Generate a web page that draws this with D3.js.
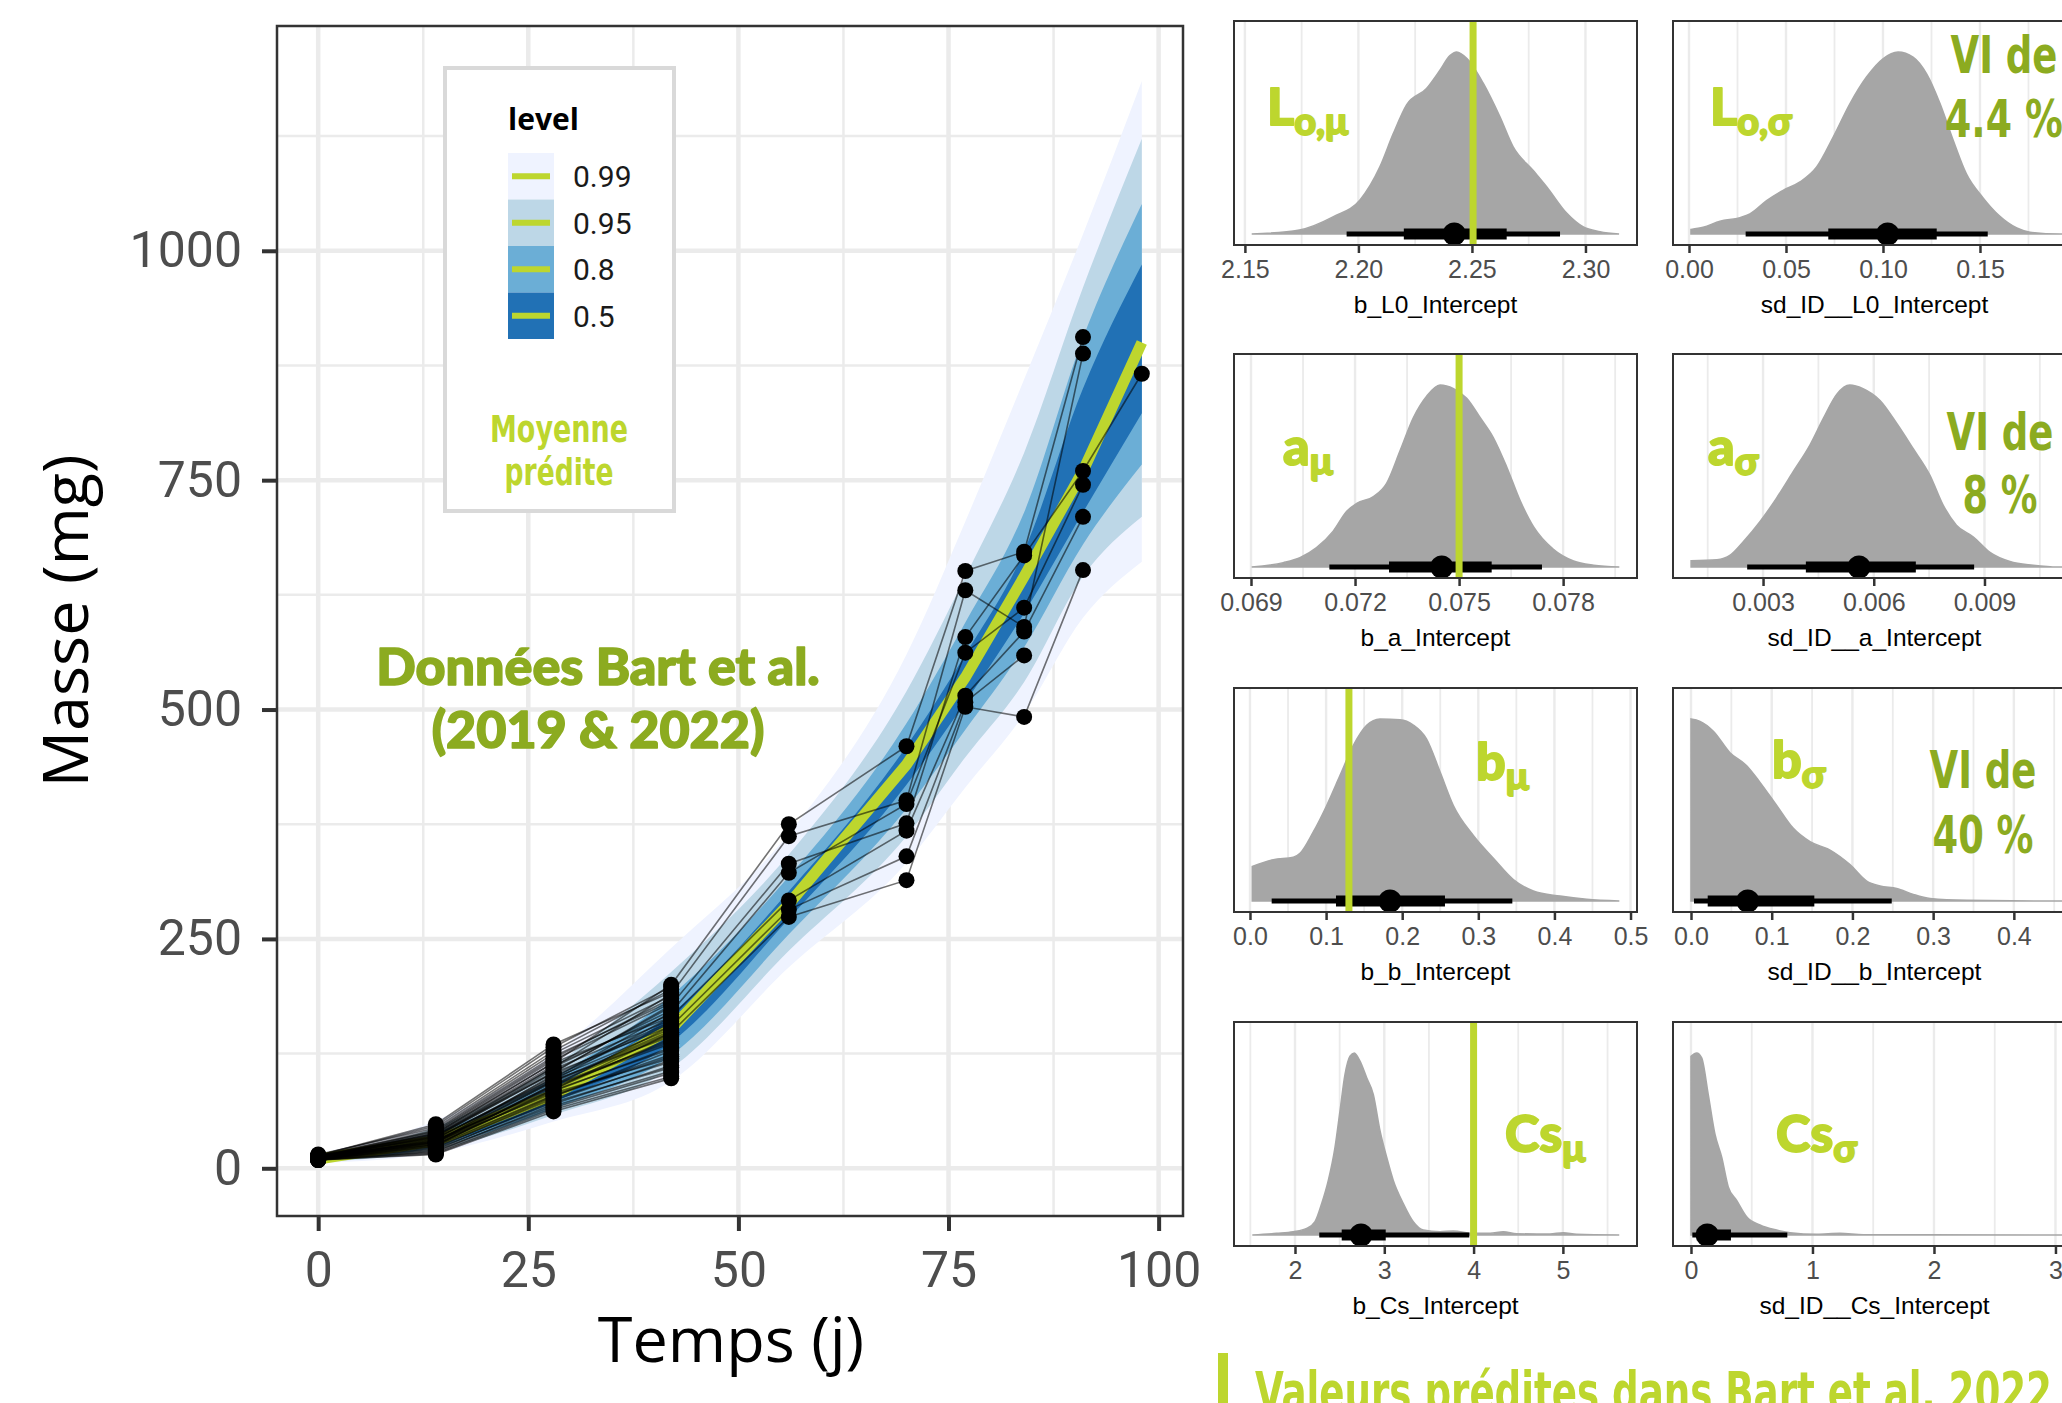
<!DOCTYPE html>
<html>
<head>
<meta charset="utf-8">
<script src="https://cdn.jsdelivr.net/npm/d3@7"></script>
<style>
  body { margin: 0; background: #fff; }
  svg { display: block; }
</style>
</head>
<body>
<svg id="chart" width="2062" height="1403"></svg>
<script>
// ---------- data: growth curves ----------
const times = [0, 14, 28, 42, 56, 70, 77, 84, 91, 98];
const predMean = [10, 30, 80, 152, 288, 440, 535, 645, 760, 900];
const hi99 = [16, 52, 125, 240, 365, 560, 705, 860, 1018, 1185];
const hi95 = [14.5, 45, 112, 214, 342, 520, 645, 780, 960, 1122];
const hi80 = [13, 39, 99, 188, 318, 485, 595, 715, 905, 1051];
const hi50 = [11.5, 34, 89, 168, 302, 460, 560, 673, 850, 985];
const lo50 = [9, 26, 72, 137, 272, 418, 508, 605, 715, 823];
const lo80 = [8, 23, 65, 123, 255, 392, 478, 568, 680, 767];
const lo95 = [7, 20, 58, 109, 237, 362, 448, 530, 645, 710];
const lo99 = [5.5, 17, 51, 95, 219, 333, 415, 495, 600, 661];
const levels = ["0.99", "0.95", "0.8", "0.5"];

// individuals measured until day 42 (mass at 0, 14, 28, 42)
const shortIndiv = [
  [12, 28, 95, 150], [10, 22, 78, 128], [14, 40, 120, 185], [11, 30, 88, 140],
  [9, 18, 70, 112], [13, 35, 110, 172], [12, 26, 84, 132], [10, 24, 92, 146],
  [15, 44, 128, 195], [11, 32, 100, 158], [9, 16, 64, 100], [12, 38, 115, 165],
  [13, 29, 82, 120], [10, 20, 74, 118], [14, 36, 105, 176], [11, 27, 90, 136],
  [12, 33, 98, 152], [10, 25, 80, 124], [13, 42, 125, 188], [11, 31, 86, 142],
  [9, 19, 68, 106], [12, 34, 108, 162], [14, 46, 132, 198], [10, 23, 76, 116],
  [12, 30, 94, 148], [11, 28, 102, 160], [13, 37, 112, 168], [10, 21, 72, 110],
  [12, 39, 118, 180], [11, 26, 85, 130], [9, 15, 62, 98], [13, 33, 96, 144],
  [12, 41, 122, 182], [10, 29, 91, 138], [14, 48, 135, 192], [11, 24, 79, 122],
  [12, 35, 104, 155], [10, 17, 66, 104]
];
// individuals followed longer (mass at the times above)
const longIndiv = [
  [13, 38, 115, 200, 375, 460, 651, 672, 906],
  [12, 36, 110, 190, 362, 401, 630, 590, 888],
  [12, 34, 104, 178, 332, 376, 579, 668, 760, 866],
  [11, 32, 98, 170, 322, 397, 562, 611, 745],
  [12, 30, 96, 165, 292, 368, 515, 585, 710],
  [11, 28, 90, 155, 282, 340, 508, 559],
  [10, 26, 86, 148, 274, 314, 503, 492, 652]
];

// ---------- data: posterior densities [value, relative density] ----------
const densL0mu = [[2.153,0],[2.174,0.022],[2.189,0.095],[2.2007,0.187],[2.2095,0.37],[2.2153,0.55],[2.2212,0.71],[2.230,0.80],[2.2359,0.90],[2.2403,0.98],[2.2433,1.0],[2.2477,0.965],[2.2549,0.83],[2.2623,0.645],[2.2681,0.48],[2.2769,0.35],[2.2829,0.26],[2.2917,0.115],[2.2989,0.04],[2.3064,0.013],[2.3148,0]];
const densL0sd = [[0.001,0.025],[0.0073,0.037],[0.016,0.07],[0.0263,0.09],[0.0314,0.11],[0.040,0.183],[0.0485,0.24],[0.0572,0.286],[0.0658,0.368],[0.0744,0.534],[0.083,0.717],[0.0916,0.864],[0.100,0.963],[0.1078,1.0],[0.1155,0.972],[0.1225,0.88],[0.1294,0.717],[0.1362,0.515],[0.143,0.33],[0.1515,0.20],[0.160,0.10],[0.169,0.033],[0.1758,0.01],[0.1912,0],[0.21,0]];
const densAmu = [[0.06902,0],[0.06993,0.024],[0.07041,0.051],[0.07089,0.106],[0.07137,0.197],[0.07176,0.306],[0.07205,0.35],[0.07253,0.387],[0.07291,0.46],[0.0733,0.64],[0.07368,0.82],[0.07407,0.94],[0.07445,1.0],[0.07484,0.98],[0.07522,0.927],[0.07561,0.82],[0.07599,0.71],[0.07638,0.547],[0.07676,0.365],[0.07715,0.22],[0.07772,0.097],[0.0783,0.033],[0.07888,0.01],[0.07962,0]];
const densAsd = [[0.00105,0.035],[0.00175,0.04],[0.00211,0.065],[0.00247,0.14],[0.00292,0.25],[0.00337,0.38],[0.00382,0.525],[0.00427,0.67],[0.00463,0.815],[0.005,0.95],[0.00535,1.0],[0.00571,0.98],[0.00617,0.915],[0.00662,0.79],[0.00707,0.65],[0.00752,0.505],[0.00788,0.34],[0.00824,0.23],[0.0087,0.165],[0.00915,0.08],[0.00969,0.03],[0.01032,0.01],[0.01099,0],[0.0116,0]];
const densBmu = [[0.003,0.19],[0.0306,0.227],[0.0569,0.24],[0.0657,0.262],[0.0832,0.38],[0.1008,0.525],[0.1183,0.69],[0.1358,0.855],[0.1533,0.965],[0.1708,1.0],[0.1971,0.996],[0.2146,0.967],[0.2321,0.89],[0.2497,0.71],[0.2672,0.525],[0.2935,0.36],[0.3198,0.235],[0.346,0.118],[0.3723,0.055],[0.4074,0.027],[0.4424,0.009],[0.4853,0]];
const densBsd = [[0.0,1.0],[0.0112,0.987],[0.0277,0.933],[0.0483,0.815],[0.069,0.743],[0.0855,0.652],[0.1062,0.525],[0.1268,0.399],[0.1475,0.326],[0.1723,0.28],[0.197,0.2],[0.2177,0.109],[0.2342,0.082],[0.2549,0.069],[0.2755,0.036],[0.2962,0.014],[0.3416,0.004],[0.4572,0],[0.49,0]];
const densCsmu = [[1.522,0],[1.795,0.009],[1.981,0.018],[2.131,0.036],[2.224,0.073],[2.299,0.173],[2.373,0.3],[2.448,0.482],[2.504,0.682],[2.56,0.882],[2.616,0.982],[2.664,1.0],[2.728,0.955],[2.803,0.864],[2.877,0.773],[2.952,0.573],[3.027,0.427],[3.101,0.3],[3.213,0.173],[3.325,0.073],[3.437,0.027],[3.624,0.018],[3.773,0.022],[3.997,0.009],[4.184,0.009],[4.333,0.018],[4.482,0.007],[4.855,0.005],[5.004,0.013],[5.154,0.004],[5.631,0]];
const densCssd = [[0,0.982],[0.047,1.0],[0.088,0.973],[0.142,0.773],[0.197,0.555],[0.253,0.427],[0.307,0.264],[0.376,0.19],[0.458,0.1],[0.568,0.055],[0.705,0.027],[0.815,0.013],[1.035,0.004],[1.226,0.009],[1.418,0.002],[3.01,0],[3.2,0]];

// intervals: [95% low, 66% low, median, 66% high, 95% high]
const ivL0mu = [2.1948, 2.220, 2.2422, 2.2653, 2.2888];
const ivL0sd = [0.0292, 0.0718, 0.1024, 0.1277, 0.154];
const ivAmu = [0.07126, 0.07298, 0.0745, 0.07594, 0.07739];
const ivAsd = [0.00257, 0.00416, 0.0056, 0.00714, 0.00872];
const ivBmu = [0.0285, 0.113, 0.184, 0.2562, 0.3447];
const ivBsd = [0.0037, 0.0207, 0.0703, 0.1528, 0.2487];
const ivCsmu = [2.272, 2.523, 2.739, 3.016, 3.952];
const ivCssd = [0.011, 0.047, 0.134, 0.329, 0.793];

// values predicted in Bart et al. 2022
const predictedL0 = 2.2505, predictedA = 0.075, predictedB = 0.13, predictedCs = 4.0;

// ---------- colours ----------
const lime = "#bdd62e";
const olive = "#8cab20";
const blues = ["#eff3ff", "#bdd7e7", "#6baed6", "#2171b5"];
const gridCol = "#ebebeb";
const condensed = "'Liberation Sans Narrow','Arial Narrow','DejaVu Sans Condensed',sans-serif";

const svg = d3.select("#chart");
svg.append("rect").attr("width", 2062).attr("height", 1403).attr("fill", "#fff");

// ================= main growth panel =================
const mp = { left: 277, right: 1183, top: 26, bottom: 1216 };
const x = d3.scaleLinear().domain([-4.9, 102.9]).range([mp.left, mp.right]);
const y = d3.scaleLinear().domain([-52, 1245]).range([mp.bottom, mp.top]);

const main = svg.append("g");

// grid
const xMinor = [12.5, 37.5, 62.5, 87.5], yMinor = [125, 375, 625, 875, 1125];
const xMajor = [0, 25, 50, 75, 100], yMajor = [0, 250, 500, 750, 1000];
main.selectAll(".gxm").data(xMinor).join("line")
  .attr("x1", d => x(d)).attr("x2", d => x(d)).attr("y1", mp.top).attr("y2", mp.bottom)
  .attr("stroke", gridCol).attr("stroke-width", 2.5);
main.selectAll(".gym").data(yMinor).join("line")
  .attr("y1", d => y(d)).attr("y2", d => y(d)).attr("x1", mp.left).attr("x2", mp.right)
  .attr("stroke", gridCol).attr("stroke-width", 2.5);
main.selectAll(".gxM").data(xMajor).join("line")
  .attr("x1", d => x(d)).attr("x2", d => x(d)).attr("y1", mp.top).attr("y2", mp.bottom)
  .attr("stroke", gridCol).attr("stroke-width", 4.5);
main.selectAll(".gyM").data(yMajor).join("line")
  .attr("y1", d => y(d)).attr("y2", d => y(d)).attr("x1", mp.left).attr("x2", mp.right)
  .attr("stroke", gridCol).attr("stroke-width", 4.5);

// prediction ribbons
const bands = [[lo99, hi99], [lo95, hi95], [lo80, hi80], [lo50, hi50]];
const ribbon = d3.area().curve(d3.curveMonotoneX)
  .x((d, i) => x(times[i]))
  .y0(d => y(d[0]))
  .y1(d => y(d[1]));
bands.forEach((b, k) => {
  const rows = times.map((t, i) => [b[0][i], b[1][i]]);
  main.append("path").datum(rows).attr("d", ribbon).attr("fill", blues[k]);
});

// predicted mean
const meanLine = d3.line().x((d, i) => x(times[i])).y(d => y(d));
main.append("path").datum(predMean).attr("d", meanLine)
  .attr("fill", "none").attr("stroke", lime).attr("stroke-width", 11);

// individual trajectories
const allIndiv = shortIndiv.concat(longIndiv);
const indivLine = d3.line().x((d, i) => x(times[i])).y(d => y(d));
main.selectAll(".ind").data(allIndiv).join("path")
  .attr("d", indivLine).attr("fill", "none")
  .attr("stroke", "#000").attr("stroke-opacity", 0.55).attr("stroke-width", 1.6);
const pts = [];
allIndiv.forEach(ind => ind.forEach((v, i) => pts.push([times[i], v])));
main.selectAll(".pt").data(pts).join("circle")
  .attr("cx", d => x(d[0])).attr("cy", d => y(d[1])).attr("r", 8).attr("fill", "#000");

// border
main.append("rect").attr("x", mp.left).attr("y", mp.top)
  .attr("width", mp.right - mp.left).attr("height", mp.bottom - mp.top)
  .attr("fill", "none").attr("stroke", "#333").attr("stroke-width", 2.5);

// axes
const yAxis = main.append("g").attr("transform", `translate(${mp.left},0)`)
  .call(d3.axisLeft(y).tickValues(yMajor).tickFormat(d3.format("d")).tickSize(15).tickPadding(20));
const xAxis = main.append("g").attr("transform", `translate(0,${mp.bottom})`)
  .call(d3.axisBottom(x).tickValues(xMajor).tickFormat(d3.format("d")).tickSize(15).tickPadding(20));
[yAxis, xAxis].forEach(a => {
  a.select(".domain").remove();
  a.selectAll(".tick line").attr("stroke", "#333").attr("stroke-width", 4);
  a.selectAll(".tick text").attr("font-family", "Roboto, sans-serif")
    .attr("font-size", 50).attr("fill", "#4d4d4d");
});

main.append("text").attr("x", 731).attr("y", 1362).attr("text-anchor", "middle")
  .attr("font-family", "'Open Sans', sans-serif").attr("font-size", 63).attr("fill", "#000")
  .text("Temps (j)");
main.append("text").attr("transform", `translate(88,${(mp.top + mp.bottom) / 2}) rotate(-90)`)
  .attr("text-anchor", "middle")
  .attr("font-family", "'Open Sans', sans-serif").attr("font-size", 63).attr("fill", "#000")
  .text("Masse (mg)");

// data annotation (stroke thickens the bold face)
["Données Bart et al.", "(2019 & 2022)"].forEach((t, i) => {
  main.append("text").attr("x", 598).attr("y", 685 + i * 63).attr("text-anchor", "middle")
    .attr("font-family", "Lato, sans-serif").attr("font-weight", 900).attr("font-size", 52)
    .attr("fill", olive).attr("stroke", olive).attr("stroke-width", 1.6)
    .attr("stroke-linejoin", "round").text(t);
});

// legend
const lg = main.append("g");
lg.append("rect").attr("x", 445).attr("y", 68).attr("width", 229).attr("height", 443)
  .attr("fill", "#fff").attr("stroke", "#d9d9d9").attr("stroke-width", 4);
lg.append("text").attr("x", 508).attr("y", 130)
  .attr("font-family", "'Open Sans', sans-serif").attr("font-weight", 700).attr("font-size", 30)
  .attr("fill", "#000").text("level");
const keyY = d3.scaleBand().domain(levels).range([153, 339]);
lg.selectAll(".key").data(levels).join("rect")
  .attr("x", 508).attr("y", d => keyY(d)).attr("width", 46).attr("height", keyY.bandwidth())
  .attr("fill", (d, i) => blues[i]);
lg.selectAll(".keyline").data(levels).join("line")
  .attr("x1", 512).attr("x2", 550)
  .attr("y1", d => keyY(d) + keyY.bandwidth() / 2).attr("y2", d => keyY(d) + keyY.bandwidth() / 2)
  .attr("stroke", lime).attr("stroke-width", 6);
lg.selectAll(".keylab").data(levels).join("text")
  .attr("x", 573).attr("y", d => keyY(d) + keyY.bandwidth() / 2).attr("dy", "0.36em")
  .attr("font-family", "Roboto, sans-serif").attr("font-size", 30).attr("fill", "#1a1a1a")
  .text(d => d);
lg.append("text").attr("x", 559).attr("y", 442).attr("text-anchor", "middle")
  .attr("font-family", condensed).attr("font-weight", 700).attr("font-size", 38)
  .attr("textLength", 138).attr("lengthAdjust", "spacingAndGlyphs")
  .attr("fill", lime).text("Moyenne");
lg.append("text").attr("x", 559).attr("y", 485).attr("text-anchor", "middle")
  .attr("font-family", condensed).attr("font-weight", 700).attr("font-size", 38)
  .attr("textLength", 109).attr("lengthAdjust", "spacingAndGlyphs")
  .attr("fill", lime).text("prédite");

// ================= posterior panels =================
const colX = [1234, 1673], rowY = [21, 354, 688, 1022];
const pw = 403, ph = 224;

const panels = [
  { title: "b_L0_Intercept", row: 0, col: 0, domain: [2.1452, 2.3227], major: [2.15, 2.20, 2.25, 2.30], minor: [2.175, 2.225, 2.275], fmt: ".2f", dens: densL0mu, iv: ivL0mu, vline: predictedL0, sym: "L", sub: "o,μ" },
  { title: "sd_ID__L0_Intercept", row: 0, col: 1, domain: [-0.00825, 0.1995], major: [0, 0.05, 0.10, 0.15], minor: [0.025, 0.075, 0.125, 0.175], fmt: ".2f", dens: densL0sd, iv: ivL0sd, vline: null, sym: "L", sub: "o,σ", vi: ["VI de", "4.4 %"] },
  { title: "b_a_Intercept", row: 1, col: 0, domain: [0.06851, 0.08013], major: [0.069, 0.072, 0.075, 0.078], minor: [0.0705, 0.0735, 0.0765, 0.0795], fmt: ".3f", dens: densAmu, iv: ivAmu, vline: predictedA, sym: "a", sub: "μ" },
  { title: "sd_ID__a_Intercept", row: 1, col: 1, domain: [0.00056, 0.01148], major: [0.003, 0.006, 0.009], minor: [0.0015, 0.0045, 0.0075, 0.0105], fmt: ".3f", dens: densAsd, iv: ivAsd, vline: null, sym: "a", sub: "σ", vi: ["VI de", "8 %"] },
  { title: "b_b_Intercept", row: 2, col: 0, domain: [-0.021, 0.5085], major: [0, 0.1, 0.2, 0.3, 0.4, 0.5], minor: [0.05, 0.15, 0.25, 0.35, 0.45], fmt: ".1f", dens: densBmu, iv: ivBmu, vline: predictedB, sym: "b", sub: "μ" },
  { title: "sd_ID__b_Intercept", row: 2, col: 1, domain: [-0.0223, 0.477], major: [0, 0.1, 0.2, 0.3, 0.4], minor: [0.05, 0.15, 0.25, 0.35, 0.45], fmt: ".1f", dens: densBsd, iv: ivBsd, vline: null, sym: "b", sub: "σ", vi: ["VI de", "40 %"] },
  { title: "b_Cs_Intercept", row: 3, col: 0, domain: [1.317, 5.83], major: [2, 3, 4, 5], minor: [1.5, 2.5, 3.5, 4.5, 5.5], fmt: "d", dens: densCsmu, iv: ivCsmu, vline: predictedCs, sym: "Cs", sub: "μ" },
  { title: "sd_ID__Cs_Intercept", row: 3, col: 1, domain: [-0.148, 3.169], major: [0, 1, 2, 3], minor: [0.5, 1.5, 2.5], fmt: "d", dens: densCssd, iv: ivCssd, vline: null, sym: "Cs", sub: "σ" }
];

// where the parameter names and the VI notes sit
const symPos = [[1267, 125], [1710, 125], [1283, 465], [1708, 465], [1476, 780], [1772, 778], [1505, 1152], [1776, 1152]];
const viPos = { 1: [2004, 73, 137, 107, 118], 3: [2000, 450, 513, 107, 75], 5: [1983, 788, 853, 107, 101] };

panels.forEach((p, k) => {
  const x0 = colX[p.col], y0 = rowY[p.row];
  const g = svg.append("g");
  const clipId = "clip" + k;
  g.append("clipPath").attr("id", clipId).append("rect")
    .attr("x", x0).attr("y", y0).attr("width", pw).attr("height", ph);

  const px = d3.scaleLinear().domain(p.domain).range([x0, x0 + pw]);
  const base = y0 + ph - 11;
  const py = d3.scaleLinear().domain([0, 1]).range([base, y0 + 31]);

  const inner = g.append("g").attr("clip-path", `url(#${clipId})`);
  inner.selectAll(".mi").data(p.minor).join("line")
    .attr("x1", d => px(d)).attr("x2", d => px(d)).attr("y1", y0).attr("y2", y0 + ph)
    .attr("stroke", gridCol).attr("stroke-width", 1.8);
  inner.selectAll(".ma").data(p.major).join("line")
    .attr("x1", d => px(d)).attr("x2", d => px(d)).attr("y1", y0).attr("y2", y0 + ph)
    .attr("stroke", gridCol).attr("stroke-width", 2.4);

  const slab = d3.area().curve(d3.curveMonotoneX)
    .x(d => px(d[0])).y0(base).y1(d => py(d[1]));
  inner.append("path").datum(p.dens).attr("d", slab)
    .attr("fill", "#a6a6a6").attr("stroke", "#a6a6a6").attr("stroke-width", 1.5);

  // interval
  inner.append("line").attr("x1", px(p.iv[0])).attr("x2", px(p.iv[4]))
    .attr("y1", base).attr("y2", base).attr("stroke", "#000").attr("stroke-width", 5);
  inner.append("line").attr("x1", px(p.iv[1])).attr("x2", px(p.iv[3]))
    .attr("y1", base).attr("y2", base).attr("stroke", "#000").attr("stroke-width", 11);
  inner.append("circle").attr("cx", px(p.iv[2])).attr("cy", base).attr("r", 11.5).attr("fill", "#000");

  if (p.vline !== null) {
    inner.append("line").attr("x1", px(p.vline)).attr("x2", px(p.vline))
      .attr("y1", y0).attr("y2", y0 + ph).attr("stroke", lime).attr("stroke-width", 7);
  }

  g.append("rect").attr("x", x0).attr("y", y0).attr("width", pw).attr("height", ph)
    .attr("fill", "none").attr("stroke", "#333").attr("stroke-width", 2);

  const ax = g.append("g").attr("transform", `translate(0,${y0 + ph})`)
    .call(d3.axisBottom(px).tickValues(p.major).tickFormat(d3.format(p.fmt)).tickSize(8).tickPadding(7));
  ax.select(".domain").remove();
  ax.selectAll(".tick line").attr("stroke", "#333").attr("stroke-width", 2.5);
  ax.selectAll(".tick text").attr("font-family", "'Liberation Sans', Arial, sans-serif")
    .attr("font-size", 25).attr("fill", "#4d4d4d");

  g.append("text").attr("x", x0 + pw / 2).attr("y", y0 + ph + 68).attr("text-anchor", "middle")
    .attr("font-family", "'Liberation Sans', Arial, sans-serif").attr("font-size", 24.5)
    .attr("fill", "#000").text(p.title);

  // parameter name
  const s = g.append("text").attr("x", symPos[k][0]).attr("y", symPos[k][1])
    .attr("font-family", "Lato, 'Open Sans', sans-serif").attr("font-weight", 900)
    .attr("font-size", 52).attr("fill", lime)
    .attr("stroke", lime).attr("stroke-width", 1.8).attr("stroke-linejoin", "round");
  s.append("tspan").text(p.sym);
  s.append("tspan").attr("font-size", 38).attr("dy", 10).text(p.sub);

  if (p.vi) {
    const v = viPos[k];
    [0, 1].forEach(j => {
      g.append("text").attr("x", v[0]).attr("y", v[1 + j]).attr("text-anchor", "middle")
        .attr("font-family", condensed).attr("font-weight", 700).attr("font-size", 52)
        .attr("textLength", v[3 + j]).attr("lengthAdjust", "spacingAndGlyphs")
        .attr("fill", olive).text(p.vi[j]);
    });
  }
});

// legend of the green vertical lines
svg.append("rect").attr("x", 1218).attr("y", 1353).attr("width", 10).attr("height", 60).attr("fill", lime);
svg.append("text").attr("x", 1255).attr("y", 1411)
  .attr("font-family", condensed).attr("font-weight", 700).attr("font-size", 56)
  .attr("textLength", 797).attr("lengthAdjust", "spacingAndGlyphs")
  .attr("fill", lime).text("Valeurs prédites dans Bart et al. 2022");
</script>
</body>
</html>
